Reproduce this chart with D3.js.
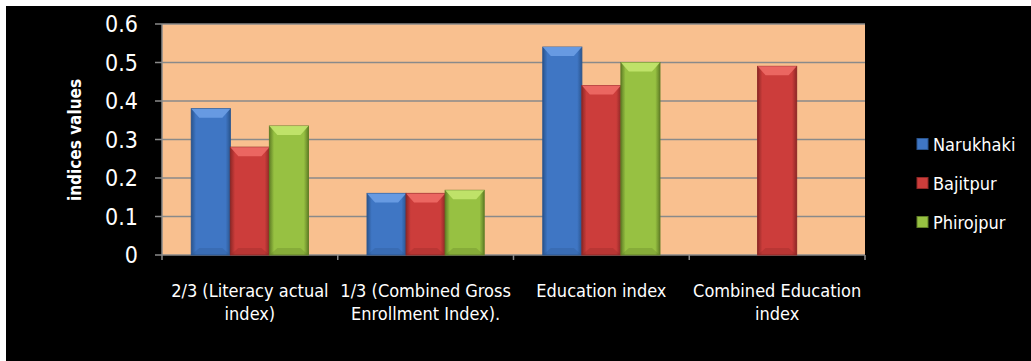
<!DOCTYPE html>
<html>
<script src='https://d3js.org/d3.v7.min.js'></script>
<style>
  body { margin: 0; background: white; }
  text { font-family: 'Liberation Sans Narrow', 'DejaVu Sans Condensed', sans-serif; fill: white; }
</style>
<body onload='init()'>
<svg width=1031 height=361></svg>
<script>
const categories = [['2/3 (Literacy actual', 'index)'], ['1/3 (Combined Gross', 'Enrollment Index).'], ['Education index'], ['Combined Education', 'index']];
const seriesNames = ['Narukhaki', 'Bajitpur', 'Phirojpur'];
const narukhaki = [0.38, 0.16, 0.54, null];
const bajitpur = [0.28, 0.16, 0.44, 0.49];
const phirojpur = [0.335, 0.168, 0.50, null];
const yTicks = [0, 0.1, 0.2, 0.3, 0.4, 0.5, 0.6];

function init() {
  const svg = d3.select('svg');
  const colors = [
    {base: '#3f76c4', light: '#6b9fe6', dark: '#2a558f'},
    {base: '#cc3d3b', light: '#ee6a66', dark: '#8f2826'},
    {base: '#97c142', light: '#c3e66e', dark: '#617f26'}
  ];
  const values = [narukhaki, bajitpur, phirojpur];

  svg.append('rect').attr('x', 6).attr('y', 6).attr('width', 1025).attr('height', 355).attr('fill', 'black');

  const left = 162, right = 865, top = 24, bottom = 255;
  const x = d3.scaleBand().domain(d3.range(categories.length)).range([left, right]);
  const bw = x.bandwidth() / 4.5;
  const y = d3.scaleLinear().domain([0, 0.6]).range([bottom, top]);

  const defs = svg.append('defs');
  colors.forEach((c, i) => {
    const g = defs.append('linearGradient').attr('id', 'g' + i);
    g.append('stop').attr('offset', '0%').attr('stop-color', c.dark);
    g.append('stop').attr('offset', '12%').attr('stop-color', c.base);
    g.append('stop').attr('offset', '88%').attr('stop-color', c.base);
    g.append('stop').attr('offset', '100%').attr('stop-color', c.dark);
  });

  svg.append('rect').attr('x', left).attr('y', top).attr('width', right - left).attr('height', bottom - top).attr('fill', '#f9c08f');

  svg.append('g').selectAll('line').data(yTicks).enter().append('line')
    .attr('x1', left - 7).attr('x2', right)
    .attr('y1', d => y(d)).attr('y2', d => y(d))
    .attr('stroke', '#8a8a8a').attr('stroke-width', 1.5);

  svg.append('line').attr('x1', left).attr('x2', left).attr('y1', top).attr('y2', bottom).attr('stroke', '#8a8a8a').attr('stroke-width', 1.5);
  svg.append('g').selectAll('line').data(d3.range(categories.length + 1)).enter().append('line')
    .attr('x1', d => left + d * x.bandwidth()).attr('x2', d => left + d * x.bandwidth())
    .attr('y1', bottom).attr('y2', bottom + 5)
    .attr('stroke', '#8a8a8a').attr('stroke-width', 1.5);

  svg.append('g').selectAll('text').data(yTicks).enter().append('text')
    .attr('x', 138).attr('y', d => y(d) + 8)
    .attr('text-anchor', 'end').attr('font-size', 23)
    .text(d => d3.format('')(d));

  const bars = [];
  values.forEach((vals, s) => vals.forEach((v, c) => { if (v != null) bars.push({s, c, v}); }));
  const bg = svg.append('g').selectAll('g').data(bars).enter().append('g')
    .attr('transform', d => `translate(${x(d.c) + bw * 0.75 + d.s * bw},0)`);
  bg.append('rect')
    .attr('x', 0).attr('y', d => y(d.v)).attr('width', bw).attr('height', d => bottom - y(d.v))
    .attr('fill', d => `url(#g${d.s})`).attr('stroke', d => colors[d.s].dark).attr('stroke-width', 1);
  bg.append('path')
    .attr('d', d => { const t = y(d.v); return `M0,${t}L${bw},${t}L${bw - 8},${t + 9}L8,${t + 9}Z`; })
    .attr('fill', d => colors[d.s].light).attr('opacity', 0.9);
  bg.append('path')
    .attr('d', d => `M0,${bottom}L${bw},${bottom}L${bw - 8},${bottom - 7}L8,${bottom - 7}Z`)
    .attr('fill', d => colors[d.s].dark).attr('opacity', 0.3);

  const cl = svg.append('g').selectAll('text').data(categories).enter().append('text')
    .attr('text-anchor', 'middle').attr('font-size', 18)
    .attr('transform', (d, i) => `translate(${x(i) + x.bandwidth() / 2},297)`);
  cl.selectAll('tspan').data(d => d).enter().append('tspan')
    .attr('x', 0).attr('dy', (d, i) => i ? 23 : 0).text(d => d);

  svg.append('text').attr('transform', 'translate(81,140) rotate(-90)')
    .attr('text-anchor', 'middle').attr('font-size', 17).attr('font-weight', 'bold')
    .text('indices values');

  const lg = svg.append('g').selectAll('g').data(seriesNames).enter().append('g')
    .attr('transform', (d, i) => `translate(917,${144 + i * 39})`);
  lg.append('rect').attr('x', 0).attr('y', -5.5).attr('width', 11).attr('height', 11)
    .attr('fill', (d, i) => colors[i].base).attr('stroke', (d, i) => colors[i].dark);
  lg.append('text').attr('x', 16).attr('y', 7).attr('font-size', 18).text(d => d);
}
</script>
</body>
</html>
